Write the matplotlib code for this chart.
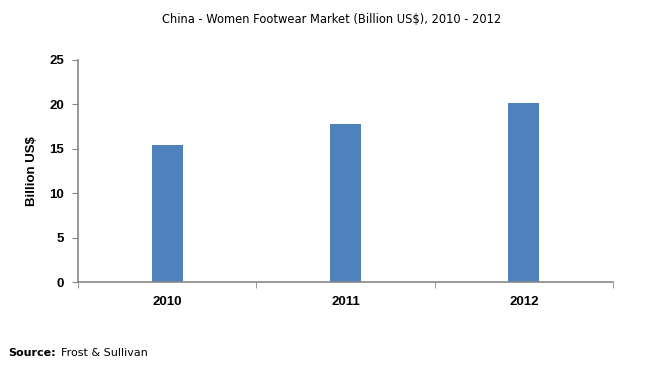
import matplotlib.pyplot as plt
import numpy as np

# data
years = ["2010", "2011", "2012"]
market = [15.4, 17.8, 20.2]
y_ticks = [0, 5, 10, 15, 20, 25]

BAR_COLOR = "#4f81bd"
AXIS_COLOR = "#868686"
LABEL_FONT = dict(family="Liberation Sans", fontweight="bold",
                  fontstretch="normal", fontsize=9.5)

fig = plt.figure(figsize=(6.47, 3.70), dpi=100)
ax = fig.add_axes([0.1206, 0.237, 0.8268, 0.601])

x = np.arange(len(years))
ax.bar(x, market, width=0.174, color=BAR_COLOR, zorder=2)

ax.set_xlim(-0.5, len(years) - 0.5)
ax.set_ylim(0, 25)
ax.set_yticks(y_ticks)
ax.set_yticklabels([str(t) for t in y_ticks], **LABEL_FONT)

# category labels centered, tick marks on the boundaries
ax.set_xticks(x)
ax.set_xticklabels(years, **LABEL_FONT)
ax.tick_params(axis="x", which="major", length=0, pad=10)
ax.set_xticks(np.arange(-0.5, len(years)), minor=True)
ax.tick_params(axis="x", which="minor", length=4, color=AXIS_COLOR, direction="out")
ax.tick_params(axis="y", length=4, color=AXIS_COLOR, direction="out", pad=6)

for s in ["top", "right"]:
    ax.spines[s].set_visible(False)
for s in ["left", "bottom"]:
    ax.spines[s].set_color(AXIS_COLOR)
    ax.spines[s].set_linewidth(1.2)

ax.set_ylabel("Billion US$", labelpad=8, **LABEL_FONT)

fig.text(0.513, 0.948, "China - Women Footwear Market (Billion US$), 2010 - 2012",
         ha="center", va="center", fontsize=8.3, family="DejaVu Sans")
fig.text(0.012, 0.045, "Source:", ha="left", va="center", fontsize=8,
         fontweight="bold", family="DejaVu Sans")
fig.text(0.094, 0.045, "Frost & Sullivan", ha="left", va="center", fontsize=8,
         family="DejaVu Sans")

fig.savefig("out.png", dpi=100)
